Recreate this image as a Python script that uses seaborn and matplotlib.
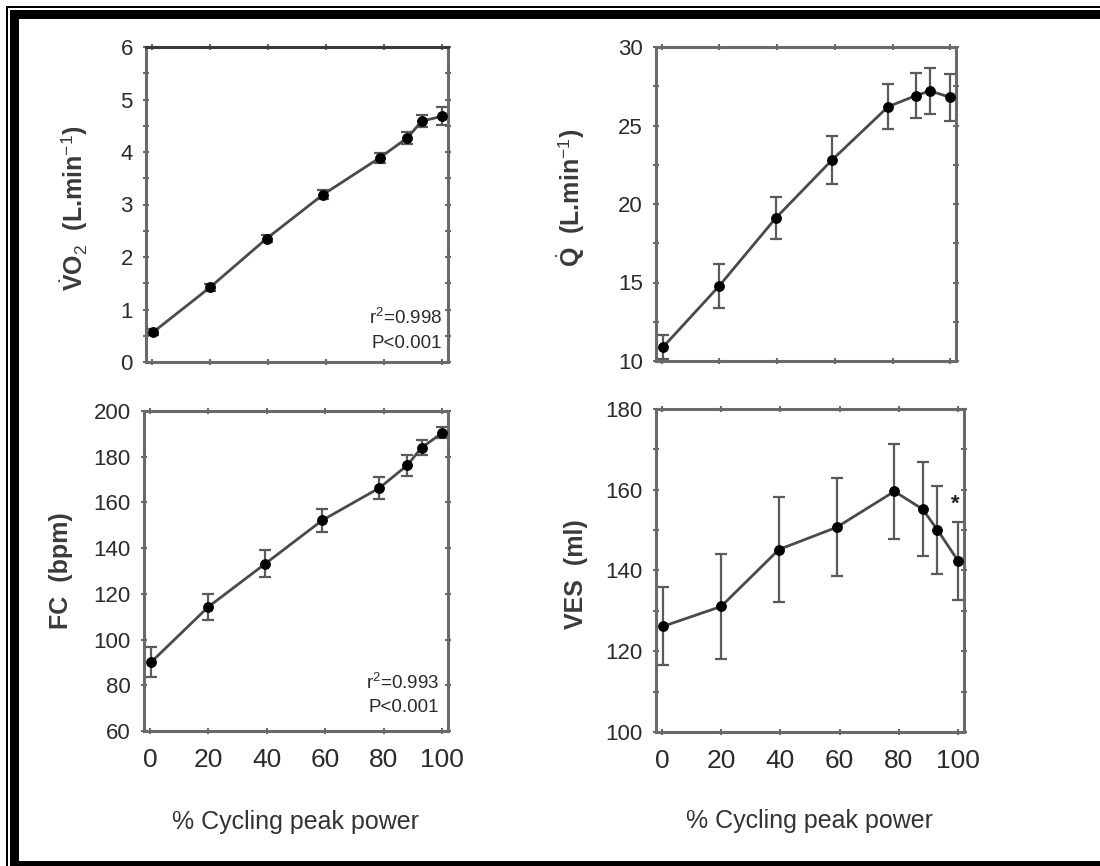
"""
Cardio-respiratory responses vs % cycling peak power (4 panels).
"""

import numpy as np
import pandas as pd
import matplotlib
matplotlib.use("Agg")
import matplotlib.pyplot as plt
import seaborn as sns
from matplotlib.patches import Rectangle
from matplotlib.ticker import MultipleLocator

# % of cycling peak power, same stages in every panel
power_pct = [0.5, 20, 39.5, 59, 78.5, 88, 93, 100]

vo2 = [0.57, 1.42, 2.35, 3.19, 3.89, 4.27, 4.59, 4.68]
vo2_sd = [0.05, 0.06, 0.06, 0.08, 0.09, 0.12, 0.12, 0.17]

q = [10.9, 14.8, 19.1, 22.8, 26.2, 26.9, 27.2, 26.8]
q_sd = [0.75, 1.4, 1.35, 1.5, 1.45, 1.45, 1.45, 1.5]

fc = [90.2, 114.3, 133.2, 152.2, 166.3, 176.2, 184.0, 190.4]
fc_sd = [6.5, 5.7, 5.8, 5.1, 4.9, 4.6, 3.1, 2.4]

ves = [126.2, 131.1, 145.2, 150.7, 159.6, 155.2, 150.1, 142.4]
ves_sd = [9.7, 13.1, 13.0, 12.1, 11.8, 11.6, 10.9, 9.7]

x_ticks = [0, 20, 40, 60, 80, 100]
x_title = "% Cycling peak power"

W, H = 1100, 866

sns.set_theme(style="ticks")
plt.rcParams["font.family"] = ["Liberation Sans", "DejaVu Sans"]
plt.rcParams["mathtext.fontset"] = "custom"
plt.rcParams["mathtext.rm"] = "Liberation Sans"
plt.rcParams["mathtext.it"] = "Liberation Sans:italic"
plt.rcParams["mathtext.bf"] = "Liberation Sans:bold"

LINE = "#4a4a4a"
SPINE = "#6a6a6a"
TEXT = "#2b2b2b"


def px_box(left, top, right, bottom):
    # pixel box -> figure fraction [l, b, w, h]
    return [left / W, 1 - bottom / H, (right - left) / W, (bottom - top) / H]


panels = [
    dict(y=vo2, err=vo2_sd, box=px_box(146, 47, 448, 362), ylim=(0, 6),
         major=1, minor=0.5, xlab_y=None,
         ylabel=r"$\dot{\mathbf{V}}\mathbf{O}_2$  (L.min$^{-1}$)",
         ylab_pos=(-0.185, 0.49), stats=("r$^2$=0.998", (0.98, 0.14), (0.98, 0.06))),
    dict(y=q, err=q_sd, box=px_box(656, 47, 956, 361), ylim=(10, 30),
         major=5, minor=2.5, xlab_y=None,
         ylabel=r"$\dot{\mathbf{Q}}$  (L.min$^{-1}$)",
         ylab_pos=(-0.23, 0.52), stats=None),
    dict(y=fc, err=fc_sd, box=px_box(144, 411, 448, 731), ylim=(60, 200),
         major=20, minor=None, xlab_y=-0.247,
         ylabel="FC  (bpm)",
         ylab_pos=(-0.234, 0.5), stats=("r$^2$=0.993", (0.97, 0.15), (0.97, 0.072))),
    dict(y=ves, err=ves_sd, box=px_box(656, 409, 964, 732), ylim=(100, 180),
         major=20, minor=10, xlab_y=-0.237,
         ylabel="VES  (ml)",
         ylab_pos=(-0.221, 0.49), stats=None),
]

fig = plt.figure(figsize=(W / 100, H / 100), dpi=100)
fig.patch.set_facecolor("white")

for i, p in enumerate(panels):
    ax = fig.add_axes(p["box"])
    df = pd.DataFrame({"pct": power_pct, "val": p["y"], "sd": p["err"]})

    ax.errorbar(df["pct"], df["val"], yerr=df["sd"], fmt="none",
                ecolor="#5a5a5a", elinewidth=1.6, capsize=4, capthick=1.6, zorder=2)
    sns.lineplot(data=df, x="pct", y="val", ax=ax, color=LINE, lw=2.0,
                 marker="o", markersize=7, markerfacecolor="black",
                 markeredgecolor="black", zorder=3)

    ax.set_xlim(-2, 102)
    ax.set_ylim(*p["ylim"])
    ax.set_xticks(x_ticks)
    ax.yaxis.set_major_locator(MultipleLocator(p["major"]))
    if p["minor"]:
        ax.yaxis.set_minor_locator(MultipleLocator(p["minor"]))

    for s in ax.spines.values():
        s.set_visible(True)
        s.set_color(SPINE)
        s.set_linewidth(2.2)
    if i == 0:
        ax.spines["top"].set_color("#3a3a3a")

    ax.tick_params(which="both", direction="inout", top=True, right=True,
                   color=SPINE, width=1.5)
    ax.tick_params(which="major", length=5)
    ax.tick_params(which="minor", length=4)
    ax.tick_params(axis="y", labelsize=16, labelcolor=TEXT, pad=7)
    ax.tick_params(axis="x", labelsize=19, labelcolor=TEXT, pad=10,
                   labelbottom=p["xlab_y"] is not None)

    ax.set_ylabel(p["ylabel"], fontsize=18, fontweight="bold", color="#3a3a3a")
    ax.yaxis.set_label_coords(*p["ylab_pos"])
    if p["xlab_y"] is not None:
        ax.set_xlabel(x_title, fontsize=18, color="#333333")
        ax.xaxis.set_label_coords(0.5, p["xlab_y"])
    else:
        ax.set_xlabel("")

    if p["stats"]:
        r_txt, r_pos, p_pos = p["stats"]
        ax.text(*r_pos, r_txt, transform=ax.transAxes, ha="right", va="center",
                fontsize=13.5, color=TEXT)
        ax.text(*p_pos, "P<0.001", transform=ax.transAxes, ha="right", va="center",
                fontsize=13.5, color=TEXT)

    if i == 3:
        ax.text(99.2, 156.5, "*", ha="center", va="center", fontsize=16,
                fontweight="bold", color="#222222")

# double black frame (cropped on the right side)
for (x0, y0, x1, y1) in [(6, 6, W, 8), (6, 6, 8, H),
                         (10, 10, W, 19), (10, 10, 19, H), (10, 861, W, H)]:
    fig.add_artist(Rectangle((x0 / W, 1 - y1 / H), (x1 - x0) / W, (y1 - y0) / H,
                             transform=fig.transFigure, facecolor="black",
                             edgecolor="none", zorder=10))

fig.savefig("out.png", dpi=100, facecolor="white")
